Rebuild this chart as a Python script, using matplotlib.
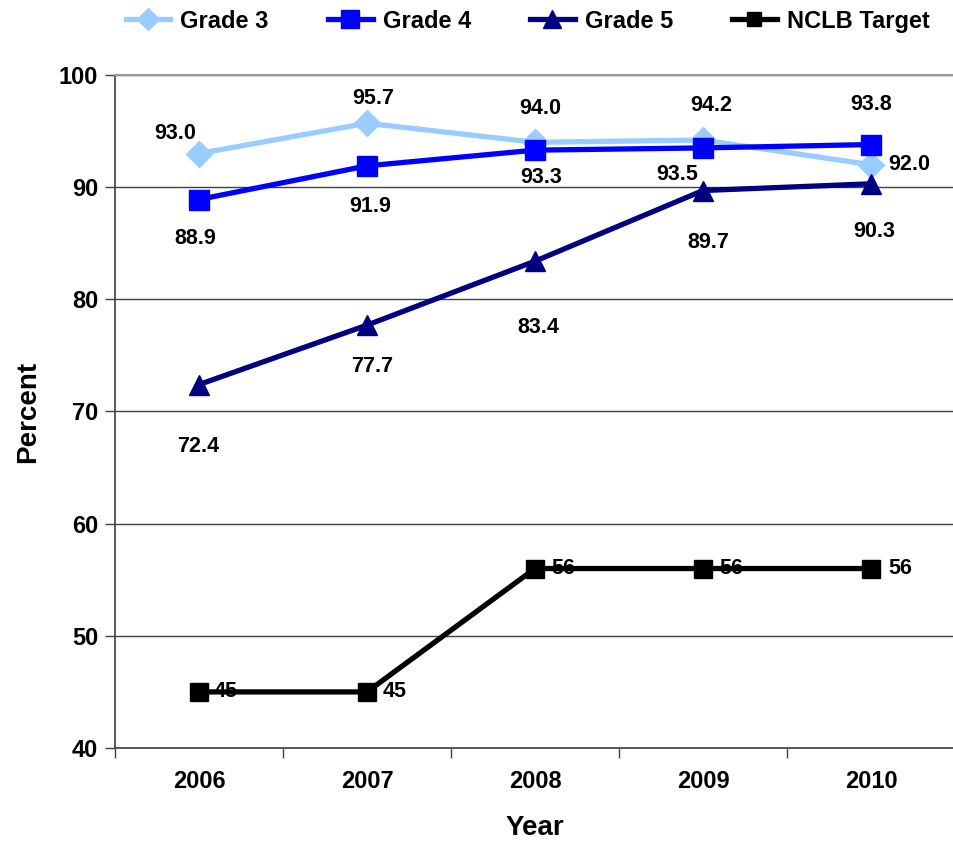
import matplotlib

matplotlib.use("Agg")
import matplotlib.pyplot as plt

years = ["2006", "2007", "2008", "2009", "2010"]
grade3 = [93.0, 95.7, 94.0, 94.2, 92.0]
grade4 = [88.9, 91.9, 93.3, 93.5, 93.8]
grade5 = [72.4, 77.7, 83.4, 89.7, 90.3]
nclb = [45, 45, 56, 56, 56]

grade3_labels = ["93.0", "95.7", "94.0", "94.2", "92.0"]
grade4_labels = ["88.9", "91.9", "93.3", "93.5", "93.8"]
grade5_labels = ["72.4", "77.7", "83.4", "89.7", "90.3"]
nclb_labels = ["45", "45", "56", "56", "56"]

# label offsets from each point, in pixels (dx, dy)
off3 = [(-24, 20), (6, 25), (5, 34), (8, 35), (38, 0)]
off4 = [(-4, -39), (3, -41), (6, -27), (-26, -27), (0, 40)]
off5 = [(-1, -62), (5, -41), (3, -66), (5, -52), (3, -48)]
offn = [(27, 0), (28, 0), (28, 0), (28, 0), (29, 0)]

plt.rcParams["font.family"] = ["Liberation Sans", "DejaVu Sans"]
plt.rcParams["font.weight"] = "bold"

fig = plt.figure(figsize=(9.54, 8.41), dpi=100)
ax = fig.add_axes([115 / 954, 1 - 748 / 841, 840 / 954, 673 / 841])

x = list(range(len(years)))
series = [
    ("Grade 3", grade3, grade3_labels, off3, "#99CCFF", "D", 13),
    ("Grade 4", grade4, grade4_labels, off4, "#0000FF", "s", 14.5),
    ("Grade 5", grade5, grade5_labels, off5, "#000080", "^", 15),
    ("NCLB Target", nclb, nclb_labels, offn, "#000000", "s", 12.5),
]
for name, vals, labs, offs, col, mk, ms in series:
    ax.plot(x, vals, color=col, lw=3.8, marker=mk, ms=ms, label=name,
            solid_joinstyle="miter", zorder=3)
    for xi, v, lab, (dx, dy) in zip(x, vals, labs, offs):
        ax.annotate(lab, (xi, v), xytext=(dx, dy), textcoords="offset pixels",
                    ha="center", va="center", fontsize=15.5, fontweight="bold",
                    color="black", zorder=4)

ax.set_xlim(-0.5, 4.5)
ax.set_ylim(40, 100)
ax.set_yticks(range(40, 101, 10))
ax.set_xticks(x)
ax.set_xticklabels(years)
ax.set_xticks([i - 0.5 for i in range(len(years) + 1)], minor=True)
ax.tick_params(axis="x", which="major", length=0, pad=16, labelsize=17)
ax.tick_params(axis="x", which="minor", length=7, width=1, color="#404040")
ax.tick_params(axis="y", length=7, width=1, color="#404040", labelsize=17, pad=5)
for lab in ax.get_xticklabels() + ax.get_yticklabels():
    lab.set_fontweight("bold")

ax.grid(axis="y", color="#404040", lw=1)
ax.set_axisbelow(True)
ax.spines["right"].set_visible(False)
ax.spines["top"].set_color("#999999")
ax.spines["top"].set_linewidth(1.5)
for s in ("left", "bottom"):
    ax.spines[s].set_color("#404040")
    ax.spines[s].set_linewidth(1.2)

ax.set_xlabel("Year", fontsize=20, fontweight="bold", labelpad=16)
ax.set_ylabel("Percent", fontsize=20, fontweight="bold", labelpad=13)

ax.legend(loc="center", bbox_to_anchor=(0.553, 0.975), bbox_transform=fig.transFigure,
          ncol=4, frameon=False, handlelength=1.9, columnspacing=2.5,
          handletextpad=0.42, markerscale=0.85,
          prop={"weight": "bold", "size": 17})

fig.savefig("out.png", dpi=100)
